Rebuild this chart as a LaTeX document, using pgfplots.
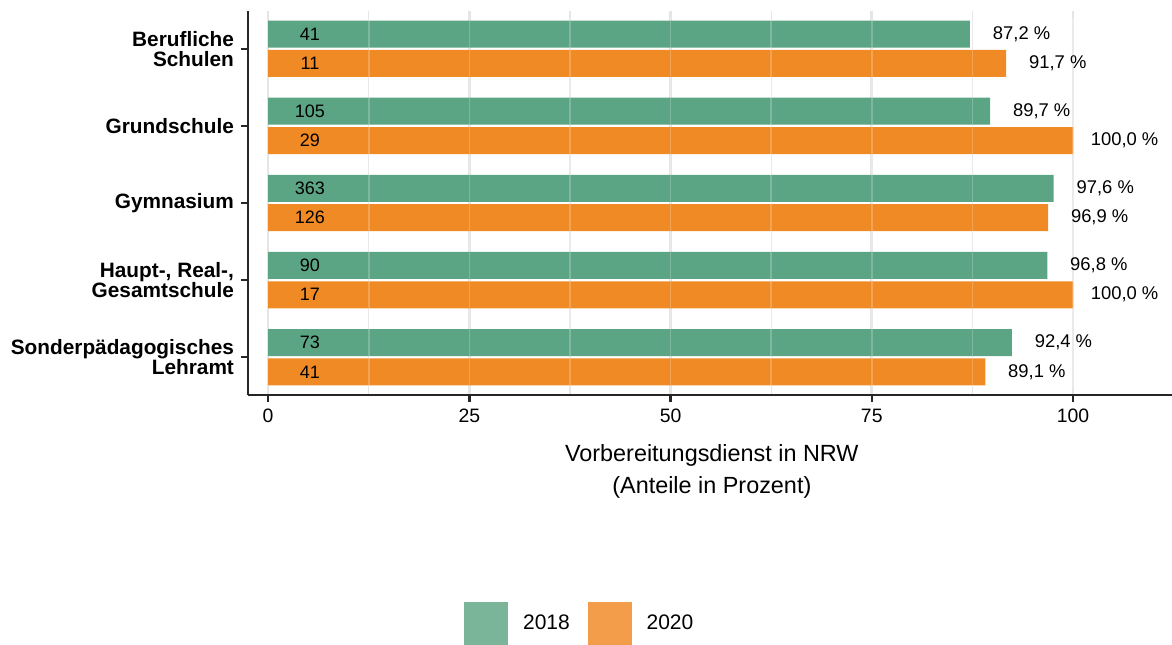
\documentclass[border=0pt]{standalone}
\usepackage{pgfplots}
\pgfplotsset{compat=1.18}
\usepackage{fontspec}
\setmainfont{Liberation Sans}

\definecolor{barG}{RGB}{91,165,132}
\definecolor{barO}{RGB}{240,138,36}
\definecolor{legG}{RGB}{122,181,154}
\definecolor{legO}{RGB}{243,156,74}
\definecolor{gridc}{RGB}{229,229,229}

\begin{document}
\begin{tikzpicture}
\begin{axis}[
    at={(0,0)}, anchor=south west,
    scale only axis,
    width=462pt, height=192pt,
    xmin=-2.5, xmax=112.3,
    ymin=-0.49, ymax=4.49,
    axis x line=bottom, axis y line=left,
    axis line style={-, line width=1.2pt, black!85},
    xtick={0,25,50,75,100},
    ytick={0,1,2,3,4},
    yticklabels={{Sonderpädagogisches\\Lehramt},{Haupt-, Real-,\\Gesamtschule},Gymnasium,Grundschule,{Berufliche\\Schulen}},
    minor x tick num=1,
    minor tick length=0pt,
    tick align=outside,
    major tick length=3.5pt,
    tick style={line width=1.2pt, black!85},
    xmajorgrids, xminorgrids,
    major grid style={gridc, line width=1.3pt},
    minor grid style={gridc, line width=0.65pt},
    /pgf/number format/assume math mode=true,
    xticklabel style={font=\fontsize{9.7}{11}\selectfont},
    yticklabel style={align=right, font=\fontsize{10.4}{10}\selectfont\bfseries},
    xlabel={Vorbereitungsdienst in NRW\\(Anteile in Prozent)},
    xlabel style={at={(axis description cs:0.502,-0.1276)}, anchor=north, inner sep=0pt,
        align=center, font=\fontsize{11.7}{16.3}\selectfont},
    legend columns=2,
    legend style={at={(axis description cs:0.358,-0.596)}, anchor=center,
        draw=none, fill=none, inner sep=0pt,
        nodes={inner sep=0pt, font=\fontsize{10.5}{12}\selectfont},
        /tikz/every odd column/.append style={column sep=7.5pt},
        /tikz/every even column/.append style={column sep=9pt}},
    clip=false,
]
% 2018
\addplot[xbar, bar width=0.35, bar shift=0.19, fill=barG, draw=none, forget plot,
    point meta=x,
    nodes near coords={\pgfmathprintnumber{\pgfplotspointmeta}~\%},
    nodes near coords style={anchor=center, xshift=25.8pt, yshift=7.3pt, black,
        font=\fontsize{9.2}{11}\selectfont,
        /pgf/number format/.cd, fixed, fixed zerofill, precision=1, use comma}]
coordinates {(87.2,4) (89.7,3) (97.6,2) (96.8,1) (92.4,0)};
% 2020
\addplot[xbar, bar width=0.35, bar shift=-0.19, fill=barO, draw=none, forget plot,
    point meta=x,
    nodes near coords={\pgfmathprintnumber{\pgfplotspointmeta}~\%},
    nodes near coords style={anchor=center, xshift=25.8pt, yshift=-7.3pt, black,
        font=\fontsize{9.2}{11}\selectfont,
        /pgf/number format/.cd, fixed, fixed zerofill, precision=1, use comma}]
coordinates {(91.7,4) (100.0,3) (96.9,2) (100.0,1) (89.1,0)};

% light stripes where grid lines cross the bars
\pgfplotsinvokeforeach{12.5,25,37.5,50,62.5,75,87.5,100}{
  \draw[white, opacity=0.22, line width=0.8pt] (axis cs:#1,-0.4) -- (axis cs:#1,4.4);
}

% counts inside bars
\addplot[draw=none, mark=none, forget plot,
    point meta=explicit symbolic, nodes near coords,
    nodes near coords style={anchor=center, black, font=\fontsize{9}{11}\selectfont}]
coordinates {
    (5.2,4.19) [41]  (5.2,3.81) [11]
    (5.2,3.19) [105] (5.2,2.81) [29]
    (5.2,2.19) [363] (5.2,1.81) [126]
    (5.2,1.19) [90]  (5.2,0.81) [17]
    (5.2,0.19) [73]  (5.2,-0.19) [41]
};

\addlegendimage{legend image code/.code={\fill[legG] (0pt,-10.75pt) rectangle (21.5pt,10.75pt);}}
\addlegendentry{2018}
\addlegendimage{legend image code/.code={\fill[legO] (0pt,-10.75pt) rectangle (21.5pt,10.75pt);}}
\addlegendentry{2020}
\end{axis}
\pgfresetboundingbox
\path[use as bounding box] (-124pt,-124.5pt) rectangle (462pt,197.5pt);
\end{tikzpicture}
\end{document}
